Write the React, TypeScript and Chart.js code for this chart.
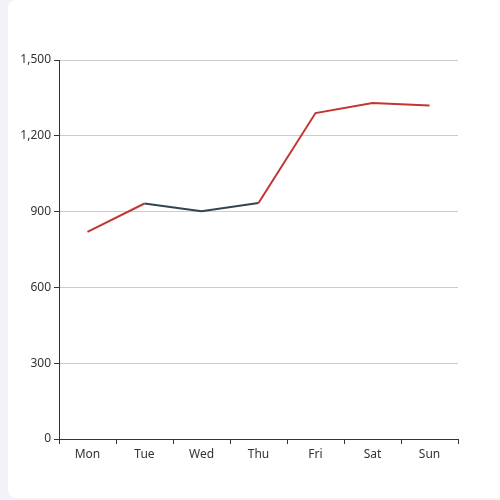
import { useEffect, useRef } from 'react';
import { Chart, registerables } from 'chart.js';

Chart.register(...registerables);

const days = ['Mon', 'Tue', 'Wed', 'Thu', 'Fri', 'Sat', 'Sun'];
const visits = [820, 932, 901, 934, 1290, 1330, 1320];
// indices where the line is drawn in the dark piece colour
const darkFrom = 1;
const darkTo = 3;

const RED = '#c23531';
const DARK = '#2f4554';

const App = () => {
  const canvasRef = useRef<HTMLCanvasElement | null>(null);
  const chartRef = useRef<Chart | null>(null);

  useEffect(() => {
    const ctx = canvasRef.current!.getContext('2d')!;
    if (chartRef.current) chartRef.current.destroy();

    chartRef.current = new Chart(ctx, {
      type: 'line',
      data: {
        labels: days,
        datasets: [{
          data: visits,
          borderColor: RED,
          borderWidth: 2,
          pointRadius: 0,
          tension: 0,
          fill: false,
          segment: {
            borderColor: (c: any) =>
              c.p0DataIndex >= darkFrom && c.p1DataIndex <= darkTo ? DARK : RED,
          },
        }],
      },
      options: {
        animation: false,
        responsive: false,
        maintainAspectRatio: false,
        layout: { padding: { left: 0, top: 60, right: 42, bottom: 0 } },
        plugins: { legend: { display: false }, tooltip: { enabled: false } },
        scales: {
          x: {
            offset: true,
            grid: { offset: true, drawOnChartArea: false, tickColor: '#333', tickLength: 5 },
            border: { color: '#333', width: 1 },
            ticks: { color: '#333', font: { family: 'Noto Sans', size: 12 }, padding: 3 },
            afterFit: (s: any) => { s.height = 61; },
          },
          y: {
            min: 0,
            max: 1500,
            grid: { color: '#ccc', tickColor: '#333', tickLength: 5 },
            border: { color: '#333', width: 1 },
            ticks: {
              stepSize: 300,
              color: '#333',
              padding: 3,
              font: { family: 'Noto Sans', size: 12 },
              callback: (v: any) => Number(v).toLocaleString('en-US'),
            },
            afterFit: (s: any) => { s.width = 59; },
          },
        },
      },
    });

    return () => {
      if (chartRef.current) {
        chartRef.current.destroy();
        chartRef.current = null;
      }
    };
  }, []);

  return (
    <div style={{ position: 'fixed', left: 0, top: 0, width: 500, height: 500, background: '#f2f3f8' }}>
      <div style={{
        position: 'absolute', left: 8, top: 0, width: 492, height: 498,
        background: '#fff', borderTopLeftRadius: 8, borderBottomLeftRadius: 8,
      }} />
      <canvas ref={canvasRef} width={500} height={500}
        style={{ position: 'absolute', left: 0, top: 0, width: 500, height: 500 }} />
    </div>
  );
};

export default App;
